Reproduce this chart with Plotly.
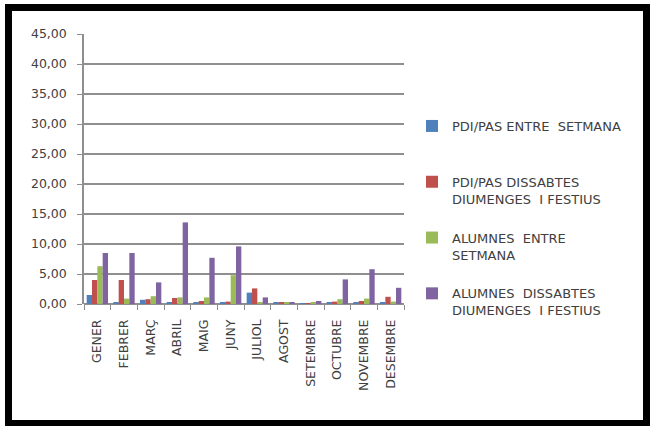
import plotly.graph_objects as go

# Monthly values per group
months = ["GENER", "FEBRER", "MARÇ", "ABRIL", "MAIG", "JUNY", "JULIOL",
          "AGOST", "SETEMBRE", "OCTUBRE", "NOVEMBRE", "DESEMBRE"]

pdi_setmana = [1.5, 0.2, 0.7, 0.2, 0.3, 0.2, 1.9, 0.2, 0.1, 0.2, 0.2, 0.2]
pdi_festius = [4.0, 4.0, 0.8, 1.0, 0.5, 0.4, 2.6, 0.2, 0.1, 0.4, 0.5, 1.2]
alumnes_setmana = [6.3, 0.9, 1.3, 1.1, 1.1, 4.8, 0.2, 0.2, 0.2, 0.8, 0.9, 0.4]
alumnes_festius = [8.5, 8.5, 3.6, 13.6, 7.7, 9.6, 1.1, 0.3, 0.5, 4.1, 5.8, 2.7]

series_names = [
    "PDI/PAS ENTRE  SETMANA<br> ",
    "PDI/PAS DISSABTES<br>DIUMENGES  I FESTIUS",
    "ALUMNES  ENTRE<br>SETMANA",
    "ALUMNES  DISSABTES<br>DIUMENGES  I FESTIUS",
]
series_values = [pdi_setmana, pdi_festius, alumnes_setmana, alumnes_festius]
series_colors = ["#4F81BD", "#C0504D", "#9BBB59", "#8064A2"]

y_ticks = [0, 5, 10, 15, 20, 25, 30, 35, 40, 45]

W, H = 650, 426
ML, MR, MT, MB = 84, 246, 34, 122
PW, PH = W - ML - MR, H - MT - MB

fig = go.Figure()
for i, (name, vals, col) in enumerate(zip(series_names, series_values, series_colors)):
    fig.add_trace(go.Bar(
        x=months, y=vals, name=name, marker_color=col,
        marker_line_width=0, legendgroup=f"g{i}",
    ))


def px_x(p):
    return (p - ML) / PW


def px_y(p):
    return (H - MB - p) / PH


# outer black frame
fig.add_shape(type="rect", xref="paper", yref="paper",
              x0=px_x(8.5), x1=px_x(646.5), y0=px_y(423.5), y1=px_y(7.5),
              line=dict(color="black", width=7), fillcolor="rgba(0,0,0,0)", layer="above")

fig.update_layout(
    width=W, height=H,
    margin=dict(l=ML, r=MR, t=MT, b=MB),
    paper_bgcolor="white", plot_bgcolor="white",
    separators=",.",
    barmode="group", bargap=0.2, bargroupgap=0,
    font=dict(family="DejaVu Sans", size=12, color="#404040"),
    showlegend=True,
    legend=dict(
        x=px_x(412), xanchor="left", y=px_y(111), yanchor="top",
        valign="top", tracegroupgap=19,
        font=dict(family="DejaVu Sans", size=13, color="#404040"),
        bgcolor="rgba(0,0,0,0)",
    ),
    xaxis=dict(
        type="category", tickangle=-90, showgrid=False,
        ticks="outside", tickson="boundaries", ticklen=5, tickcolor="#8c8c8c",
        showline=False, tickfont=dict(size=12.5, color="#404040"),
        ticklabelstandoff=12,
    ),
    yaxis=dict(
        range=[0, 45], tickvals=y_ticks, tickformat=".2f",
        showgrid=True, gridcolor="#8f8f8f", gridwidth=1.7,
        zeroline=True, zerolinecolor="#8f8f8f", zerolinewidth=1.7,
        showline=True, linecolor="#8f8f8f", linewidth=1.5,
        ticks="outside", ticklen=5, tickcolor="#8f8f8f",
        tickfont=dict(size=12.5, color="#404040"),
        ticklabelstandoff=8,
    ),
)

fig.write_html("out.html")
